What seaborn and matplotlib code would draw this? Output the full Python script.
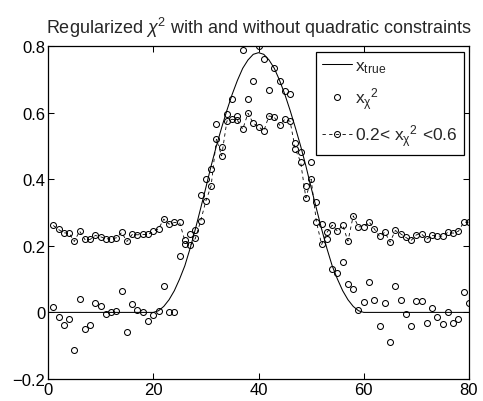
import matplotlib
matplotlib.use("Agg")
import matplotlib.pyplot as plt
import seaborn as sns
import numpy as np

# --- data ---
x_grid = list(range(0, 81))
x_true = ([0.0] * 21 +
          [0.005, 0.018, 0.038, 0.065, 0.10, 0.14, 0.192, 0.25, 0.312, 0.375,
           0.44, 0.50, 0.555, 0.607, 0.655, 0.697, 0.733, 0.758, 0.775, 0.78,
           0.775, 0.758, 0.733, 0.697, 0.655, 0.607, 0.555, 0.50, 0.44, 0.375,
           0.312, 0.25, 0.192, 0.14, 0.10, 0.065, 0.038, 0.018, 0.005] +
          [0.0] * 21)

idx = list(range(1, 81))
x_chi2 = [0.016, -0.014, -0.038, -0.019, -0.112, 0.040, -0.049, -0.037, 0.027, 0.020,
          -0.004, 0.002, 0.005, 0.065, -0.059, 0.026, 0.006, 0.000, -0.025, -0.007,
          0.003, 0.078, 0.002, 0.002, 0.168, 0.205, 0.236, 0.247, 0.353, 0.400,
          0.431, 0.567, 0.498, 0.597, 0.640, 0.590, 0.787, 0.640, 0.695, 0.800,
          0.762, 0.668, 0.733, 0.695, 0.665, 0.657, 0.510, 0.483, 0.380, 0.452,
          0.332, 0.266, 0.220, 0.131, 0.117, 0.151, 0.086, 0.070, 0.007, 0.032,
          0.092, 0.038, -0.042, 0.027, -0.089, 0.078, 0.036, -0.005, -0.042, 0.034,
          0.034, -0.032, 0.012, -0.014, -0.035, 0.000, -0.031, -0.020, 0.060, 0.027]
x_con = [0.261, 0.249, 0.239, 0.238, 0.213, 0.244, 0.219, 0.219, 0.231, 0.227,
         0.221, 0.221, 0.224, 0.240, 0.213, 0.234, 0.233, 0.234, 0.234, 0.243,
         0.251, 0.280, 0.265, 0.270, 0.270, 0.216, 0.201, 0.222, 0.274, 0.335,
         0.380, 0.520, 0.470, 0.575, 0.580, 0.577, 0.550, 0.598, 0.568, 0.558,
         0.545, 0.590, 0.586, 0.562, 0.580, 0.574, 0.490, 0.452, 0.344, 0.400,
         0.272, 0.204, 0.240, 0.262, 0.244, 0.262, 0.214, 0.290, 0.257, 0.257,
         0.272, 0.251, 0.228, 0.241, 0.211, 0.246, 0.236, 0.225, 0.216, 0.233,
         0.235, 0.220, 0.231, 0.229, 0.229, 0.241, 0.238, 0.244, 0.271, 0.271]

x_ticks = [0, 20, 40, 60, 80]
y_ticks = [-0.2, 0, 0.2, 0.4, 0.6, 0.8]
y_ticklabels = ["\u22120.2", "0", "0.2", "0.4", "0.6", "0.8"]

label_true = r"$\mathregular{x_{true}}$"
label_chi2 = r"$\mathregular{{x_{\chi}}^{2}}$"
label_con = r"0.2< $\mathregular{{x_{\chi}}^{2}}$ <0.6"
title = r"Regularized $\chi^2$ with and without quadratic constraints"

# --- style ---
sns.set_style("ticks")
plt.rcParams["font.family"] = ["Liberation Sans", "DejaVu Sans"]
plt.rcParams["mathtext.fontset"] = "custom"
plt.rcParams["mathtext.rm"] = "Liberation Sans"
plt.rcParams["mathtext.it"] = "Liberation Sans:italic"

fig = plt.figure(figsize=(4.83, 4.02), dpi=100)
ax = fig.add_axes([48 / 483, 22 / 402, 421 / 483, 333 / 402])

sns.lineplot(x=x_grid, y=x_true, color="k", linewidth=0.75, ax=ax, label=label_true)
sns.lineplot(x=idx, y=x_chi2, linestyle="", marker="o", markersize=4.3,
             markerfacecolor="none", markeredgecolor="k", markeredgewidth=0.75,
             ax=ax, label=label_chi2)
sns.lineplot(x=idx, y=x_con, color="k", linewidth=0.6, dashes=(4, 4), marker="o",
             markersize=4.3, markerfacecolor="none", markeredgecolor="k",
             markeredgewidth=0.75, ax=ax, label=label_con)

ax.set_xlim(0, 80)
ax.set_ylim(-0.2, 0.8)
ax.set_xticks(x_ticks)
ax.set_yticks(y_ticks)
ax.set_yticklabels(y_ticklabels)
ax.tick_params(direction="in", top=True, right=True, length=4, width=0.75,
               labelsize=12, colors="k", pad=2)
for s in ax.spines.values():
    s.set_color("k")
    s.set_linewidth(0.9)
ax.set_xlabel("")
ax.set_ylabel("")
ax.set_title(title, fontsize=13, pad=9)

leg = ax.legend(loc="upper right", bbox_to_anchor=(0.988, 0.982), fontsize=12.5,
                frameon=True, fancybox=False, framealpha=1, edgecolor="k",
                handlelength=1.7, labelspacing=0.6, borderpad=0.35,
                handletextpad=0.2, borderaxespad=0)
leg.get_frame().set_linewidth(0.9)

fig.savefig("out.png", dpi=100)
